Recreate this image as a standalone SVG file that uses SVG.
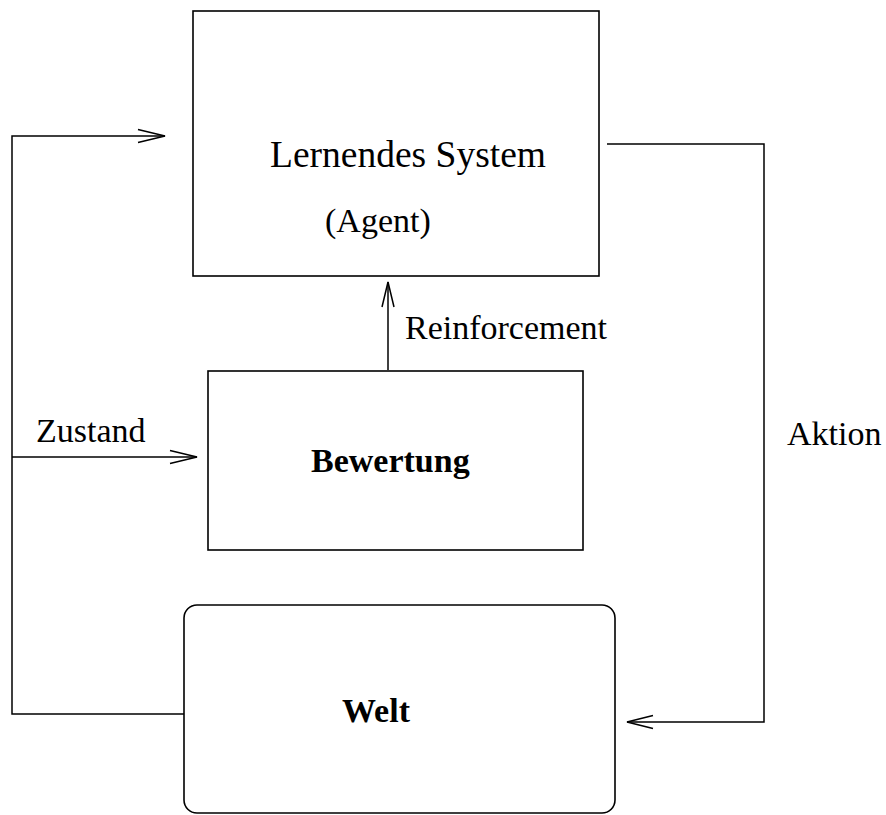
<svg xmlns="http://www.w3.org/2000/svg" width="886" height="815" viewBox="0 0 886 815">
  <style>
    .box { fill: #fff; stroke: #000; stroke-width: 1.6; }
    .wire { fill: none; stroke: #000; stroke-width: 1.5; }
    .lbl { font-family: "Liberation Serif", "Times New Roman", serif; font-size: 34px; fill: #000; }
    .bold { font-weight: bold; }
  </style>
  <rect width="886" height="815" fill="#fff"/>

  <!-- learning system -->
  <g id="agent">
    <rect class="box" x="193" y="11" width="406" height="265"/>
    <text class="lbl" x="270" y="167" style="font-size:37.5px">Lernendes System</text>
    <text class="lbl" x="325" y="232">(Agent)</text>
  </g>

  <!-- evaluation -->
  <g id="bewertung">
    <rect class="box" x="208" y="371" width="375" height="179"/>
    <text class="lbl bold" x="311" y="472">Bewertung</text>
  </g>

  <!-- environment -->
  <g id="welt">
    <rect class="box" x="184" y="605" width="431" height="208" rx="13" ry="13"/>
    <text class="lbl bold" x="342" y="722">Welt</text>
  </g>

  <!-- connectors -->
  <g id="connectors">
    <!-- state feedback from world to agent -->
    <path class="wire" d="M184 714 H12 V136 H165"/>
    <path class="wire" d="M138 129.5 L165 136 L138 142.5"/>
    <!-- state to evaluation -->
    <path class="wire" d="M12 457 H197"/>
    <path class="wire" d="M170 450.5 L197 457 L170 463.5"/>
    <!-- reinforcement -->
    <path class="wire" d="M388 370 V282"/>
    <path class="wire" d="M382 307 L388 282 L394 307"/>
    <!-- action from agent to world -->
    <path class="wire" d="M607 144 H764 V722 H627"/>
    <path class="wire" d="M653 715.5 L627 722 L653 728.5"/>
  </g>

  <g id="labels">
    <text class="lbl" x="405" y="339">Reinforcement</text>
    <text class="lbl" x="36" y="442">Zustand</text>
    <text class="lbl" x="787" y="445">Aktion</text>
  </g>
</svg>
